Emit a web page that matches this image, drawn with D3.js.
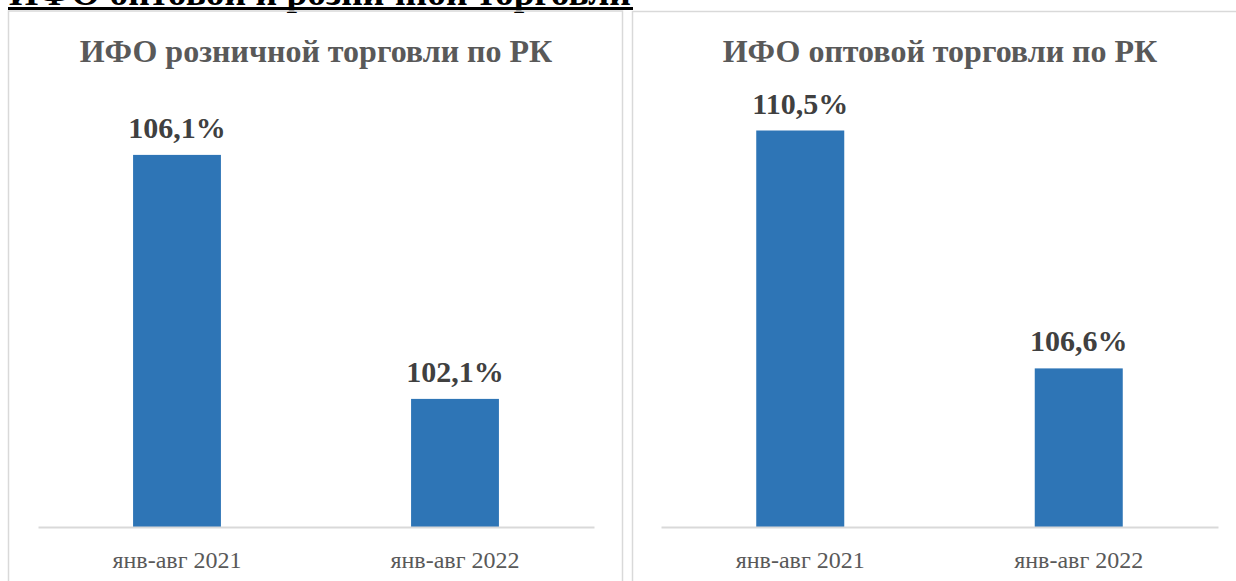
<!DOCTYPE html>
<html>
<head>
<meta charset="utf-8">
<script src="https://cdn.jsdelivr.net/npm/d3@7"></script>
<style>
  body { margin: 0; background: #fff; }
  svg { display: block; }
  text { font-family: "Liberation Serif", "Times New Roman", serif; }
</style>
</head>
<body>
<div id="chart"></div>
<script>
const W = 1236, H = 581;

const heading = "ИФО оптовой и розничной торговли";
const categories = ["янв-авг 2021", "янв-авг 2022"];
const titles = ["ИФО розничной торговли по РК", "ИФО оптовой торговли по РК"];
const retailValues = [106.1, 102.1];
const wholesaleValues = [110.5, 106.6];
const retailDomain = [100, 107];
const wholesaleDomain = [104, 111];

const svg = d3.select("#chart").append("svg")
  .attr("width", W)
  .attr("height", H);

// clipped document heading above the charts
svg.append("text")
  .attr("x", 9)
  .attr("y", 5)
  .attr("font-size", 37)
  .attr("font-weight", "bold")
  .attr("fill", "#000")
  .attr("textLength", 622)
  .attr("lengthAdjust", "spacingAndGlyphs")
  .text(heading);
svg.append("rect")
  .attr("x", 8).attr("y", 7)
  .attr("width", 625).attr("height", 3)
  .attr("fill", "#000");

const fmt = v => d3.format(".1f")(v).replace(".", ",") + "%";

function drawPanel(opt) {
  const g = svg.append("g");

  // panel frame
  g.append("rect")
    .attr("x", opt.frame[0]).attr("y", opt.frame[1])
    .attr("width", opt.frame[2]).attr("height", opt.frame[3])
    .attr("fill", "none")
    .attr("stroke", "#d9d9d9")
    .attr("stroke-width", 1.5);

  const x = d3.scaleBand()
    .domain(categories)
    .range(opt.xRange)
    .paddingInner(0.684)
    .paddingOuter(0.342);

  const y = d3.scaleLinear()
    .domain(opt.domain)
    .range([527, 100]);

  g.append("text")
    .attr("x", opt.titleX)
    .attr("y", 62)
    .attr("text-anchor", "middle")
    .attr("font-size", 32)
    .attr("font-weight", "bold")
    .attr("fill", "#595959")
    .text(opt.title);

  g.selectAll("rect.bar")
    .data(opt.values)
    .enter().append("rect")
    .attr("class", "bar")
    .attr("x", (d, i) => x(categories[i]))
    .attr("y", d => y(d))
    .attr("width", x.bandwidth())
    .attr("height", d => y(opt.domain[0]) - y(d))
    .attr("fill", "#2e75b6");

  g.selectAll("text.val")
    .data(opt.values)
    .enter().append("text")
    .attr("class", "val")
    .attr("x", (d, i) => x(categories[i]) + x.bandwidth() / 2)
    .attr("y", d => y(d) - 17)
    .attr("text-anchor", "middle")
    .attr("font-size", 30)
    .attr("font-weight", "bold")
    .attr("fill", "#404040")
    .text(fmt);

  // category axis
  const axis = g.append("g")
    .attr("transform", "translate(0,527)")
    .call(d3.axisBottom(x).tickSize(0).tickPadding(24));
  axis.select(".domain").attr("stroke", "#d9d9d9").attr("stroke-width", 2);
  axis.selectAll(".tick text")
    .attr("font-family", "Liberation Serif, Times New Roman, serif")
    .attr("font-size", 24)
    .attr("fill", "#595959");
}

drawPanel({
  frame: [8.5, 11, 614, 600],
  xRange: [38, 594],
  domain: retailDomain,
  values: retailValues,
  title: titles[0],
  titleX: 316
});

drawPanel({
  frame: [632.5, 11.5, 640, 600],
  xRange: [661, 1218],
  domain: wholesaleDomain,
  values: wholesaleValues,
  title: titles[1],
  titleX: 940
});
</script>
</body>
</html>
